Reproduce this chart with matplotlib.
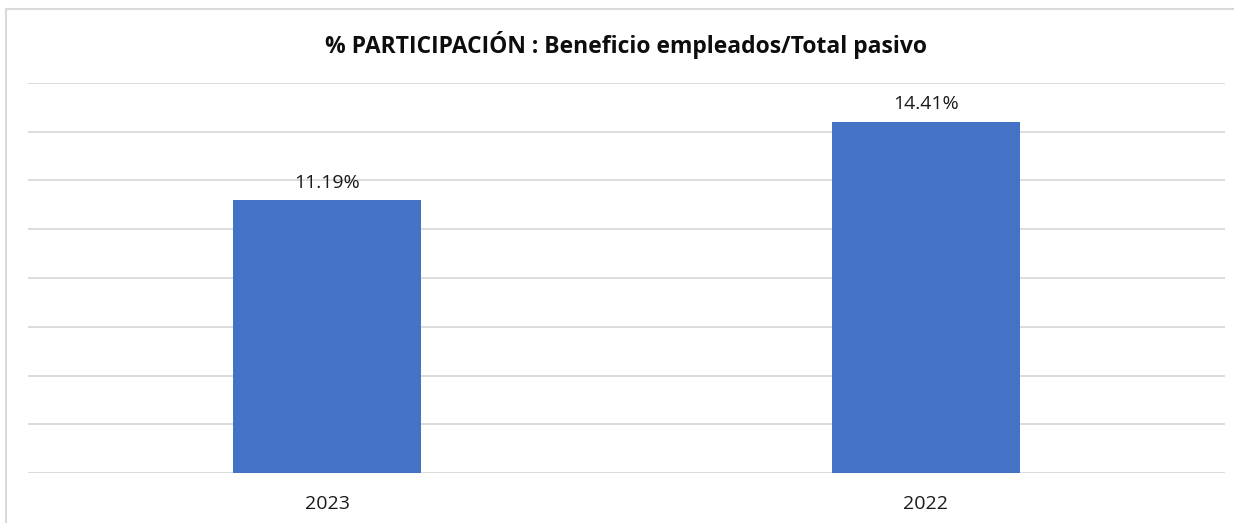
import numpy as np
import matplotlib.pyplot as plt
from matplotlib.lines import Line2D

# Data
years = ['2023', '2022']
share = [11.19, 14.41]
share_labels = ['11.19%', '14.41%']

plt.rcParams['font.family'] = ['Open Sans', 'DejaVu Sans']

fig = plt.figure(figsize=(12.34, 5.23), dpi=100)
W, H = 1234, 523
ax = fig.add_axes([28 / W, (H - 473) / H, (1225 - 28) / W, (473 - 83) / H])

x = np.arange(len(years))
bars = ax.bar(x, share, width=0.314, color='#4472c4', zorder=3)

for b, lab in zip(bars, share_labels):
    ax.annotate(lab, (b.get_x() + b.get_width() / 2, b.get_height()),
                xytext=(0, 6), textcoords='offset points',
                ha='center', va='bottom', fontsize=14, color='#1a1a1a')

ax.set_xlim(-0.5, 1.5)
ax.set_ylim(0, 16)
ax.set_yticks(np.arange(0, 17, 2))
ax.yaxis.grid(True, color='#d9d9d9', lw=1.3)
ax.set_axisbelow(True)
ax.tick_params(axis='y', left=False, labelleft=False)
ax.tick_params(axis='x', bottom=False, labelsize=14, pad=12, colors='#1a1a1a')
ax.set_xticks(x)
ax.set_xticklabels(years)
for s in ax.spines.values():
    s.set_visible(False)

fig.text(626 / W, 1 - 45 / H, '% PARTICIPACIÓN : Beneficio empleados/Total pasivo',
         ha='center', va='center', fontsize=16.5, fontweight='bold', color='#0d0d0d')

# outer frame (left and top edges visible)
fig.add_artist(Line2D([6 / W, 6 / W], [0, 1 - 9 / H], transform=fig.transFigure,
                      color='#d9d9d9', lw=1.5))
fig.add_artist(Line2D([6 / W, 1], [1 - 9 / H, 1 - 9 / H], transform=fig.transFigure,
                      color='#d9d9d9', lw=1.5))

fig.savefig('out.png', dpi=100)
